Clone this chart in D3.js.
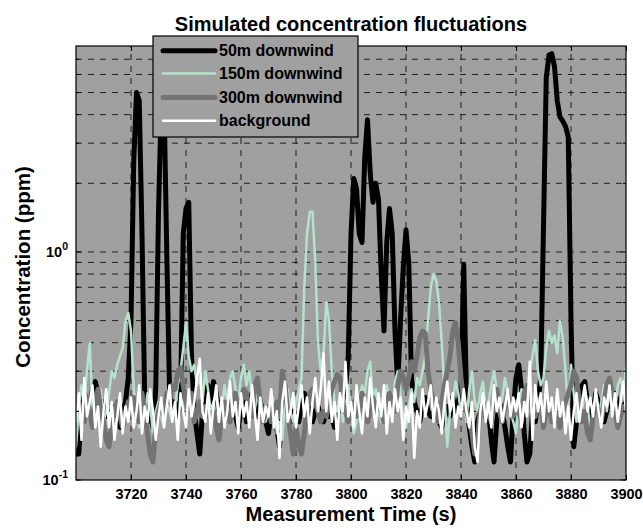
<!DOCTYPE html>
<html><head><meta charset="utf-8">
<script src="https://cdn.jsdelivr.net/npm/d3@7"></script>
<style>
body{margin:0;background:#fff}
text{font-family:"Liberation Sans",Arial,Helvetica,sans-serif;font-weight:bold;fill:#000}
</style>
</head><body>
<svg id="c" width="643" height="528"></svg>
<script>
// ---------- data ----------
const title = "Simulated concentration fluctuations";
const xLabel = "Measurement Time (s)";
const yLabel = "Concentration (ppm)";
const tStart = 3700, tStep = 1;
const xTicks = [3720,3740,3760,3780,3800,3820,3840,3860,3880,3900];
const yMajorTicks = [0.1, 1];
const yTickLabels = [["10","-1"],["10","0"]];
const yMinorTicks = [0.2,0.3,0.4,0.5,0.6,0.7,0.8,0.9,2,3,4,5,6,7];
const seriesNames = ["50m downwind","150m downwind","300m downwind","background"];

const c50 = [
0.13,0.13,0.2,0.24,0.22,0.2,0.25,0.27,0.24,0.2,
0.22,0.19,0.2,0.18,0.21,0.2,0.17,0.2,0.22,0.28,
0.5,2.5,5.0,4.6,1.2,0.22,0.18,0.2,0.17,0.25,
1.5,4.5,4.8,1.0,0.25,0.2,0.22,0.19,0.22,1.2,
1.55,1.65,0.35,0.2,0.16,0.13,0.2,0.24,0.26,0.22,
0.27,0.24,0.2,0.22,0.18,0.21,0.2,0.23,0.19,0.17,
0.2,0.22,0.18,0.21,0.24,0.2,0.19,0.22,0.2,0.18,
0.16,0.2,0.19,0.17,0.14,0.2,0.22,0.2,0.18,0.2,
0.19,0.18,0.21,0.24,0.22,0.2,0.18,0.2,0.21,0.19,
0.18,0.2,0.19,0.19,0.17,0.21,0.2,0.22,0.25,0.35,
1.2,2.1,1.9,1.2,1.1,2.6,3.8,2.2,1.65,2.0,
1.7,0.8,0.45,1.1,1.55,1.2,0.45,0.26,0.5,0.85,
1.25,0.9,0.28,0.22,0.2,0.18,0.21,0.23,0.2,0.19,
0.2,0.22,0.18,0.17,0.2,0.21,0.19,0.23,0.2,0.22,
0.25,0.88,0.22,0.17,0.14,0.12,0.18,0.2,0.22,0.19,
0.2,0.15,0.12,0.18,0.22,0.2,0.17,0.14,0.12,0.2,
0.28,0.32,0.25,0.16,0.12,0.13,0.2,0.18,0.22,0.28,
1.3,5.8,7.3,7.4,6.5,4.6,3.9,3.75,3.55,3.2,
0.5,0.14,0.18,0.2,0.26,0.27,0.22,0.19,0.2,0.24,
0.22,0.2,0.18,0.2,0.23,0.21,0.24,0.22,0.2,0.21,0.22];

const c150 = [
0.14,0.2,0.26,0.22,0.3,0.4,0.2,0.17,0.22,0.25,
0.18,0.2,0.24,0.3,0.28,0.32,0.35,0.38,0.5,0.54,
0.45,0.25,0.2,0.17,0.22,0.19,0.24,0.21,0.16,0.2,
0.22,0.19,0.17,0.23,0.2,0.18,0.21,0.26,0.3,0.38,
0.49,0.35,0.3,0.32,0.26,0.28,0.22,0.3,0.25,0.2,
0.22,0.24,0.18,0.2,0.26,0.22,0.28,0.3,0.25,0.22,
0.28,0.32,0.26,0.3,0.24,0.2,0.27,0.23,0.2,0.18,
0.2,0.24,0.22,0.16,0.18,0.15,0.22,0.25,0.2,0.18,
0.22,0.25,0.28,0.7,1.2,1.5,1.5,0.9,0.4,0.3,
0.35,0.6,0.5,0.3,0.22,0.2,0.24,0.18,0.2,0.26,
0.2,0.16,0.18,0.22,0.26,0.24,0.3,0.33,0.22,0.25,
0.2,0.18,0.22,0.26,0.23,0.2,0.27,0.3,0.24,0.19,
0.17,0.21,0.25,0.22,0.28,0.26,0.3,0.35,0.5,0.7,
0.8,0.75,0.6,0.4,0.24,0.14,0.2,0.22,0.27,0.24,
0.2,0.22,0.18,0.25,0.3,0.22,0.2,0.24,0.27,0.2,
0.22,0.26,0.3,0.25,0.2,0.23,0.28,0.24,0.2,0.18,
0.16,0.22,0.25,0.2,0.24,0.3,0.35,0.41,0.3,0.26,
0.28,0.38,0.45,0.4,0.43,0.36,0.5,0.42,0.3,0.2,
0.32,0.24,0.18,0.22,0.2,0.25,0.22,0.16,0.2,0.23,
0.19,0.22,0.26,0.2,0.24,0.22,0.2,0.26,0.28,0.25,0.31];

const c300 = [
0.2,0.22,0.19,0.18,0.23,0.2,0.17,0.22,0.25,0.2,
0.18,0.15,0.14,0.18,0.2,0.22,0.19,0.17,0.2,0.22,
0.2,0.23,0.2,0.18,0.24,0.2,0.16,0.13,0.12,0.17,
0.2,0.22,0.19,0.24,0.22,0.26,0.25,0.3,0.31,0.26,
0.22,0.2,0.24,0.18,0.2,0.22,0.19,0.21,0.2,0.18,
0.2,0.17,0.15,0.19,0.22,0.2,0.18,0.23,0.24,0.2,
0.22,0.25,0.24,0.2,0.19,0.26,0.28,0.22,0.18,0.2,
0.21,0.18,0.2,0.22,0.19,0.3,0.26,0.2,0.16,0.13,
0.17,0.14,0.13,0.16,0.2,0.24,0.25,0.22,0.2,0.18,
0.2,0.19,0.22,0.25,0.27,0.29,0.28,0.22,0.2,0.18,
0.2,0.22,0.19,0.2,0.24,0.21,0.18,0.2,0.23,0.2,
0.22,0.2,0.18,0.21,0.24,0.22,0.2,0.26,0.3,0.28,
0.25,0.28,0.33,0.3,0.35,0.42,0.45,0.44,0.3,0.25,
0.22,0.2,0.18,0.22,0.26,0.3,0.35,0.45,0.49,0.4,
0.28,0.22,0.2,0.18,0.16,0.13,0.15,0.2,0.22,0.19,
0.2,0.18,0.22,0.25,0.2,0.18,0.21,0.24,0.2,0.19,
0.22,0.2,0.18,0.24,0.26,0.22,0.2,0.19,0.21,0.23,
0.17,0.2,0.22,0.18,0.2,0.19,0.17,0.2,0.22,0.24,
0.26,0.3,0.28,0.22,0.18,0.2,0.16,0.15,0.19,0.22,
0.2,0.18,0.22,0.26,0.28,0.24,0.2,0.17,0.19,0.21,0.2];

const cBg = [
0.18,0.24,0.15,0.28,0.19,0.22,0.26,0.17,0.21,0.14,
0.2,0.25,0.17,0.22,0.15,0.19,0.24,0.16,0.21,0.18,
0.23,0.17,0.2,0.26,0.16,0.21,0.18,0.25,0.2,0.15,
0.19,0.23,0.17,0.21,0.26,0.18,0.22,0.15,0.24,0.2,
0.17,0.25,0.19,0.22,0.28,0.34,0.2,0.18,0.24,0.16,
0.21,0.26,0.18,0.23,0.17,0.2,0.27,0.19,0.22,0.16,
0.24,0.19,0.22,0.17,0.26,0.2,0.15,0.23,0.18,0.21,
0.19,0.25,0.17,0.2,0.125,0.22,0.27,0.18,0.2,0.24,
0.17,0.21,0.26,0.19,0.23,0.16,0.22,0.28,0.2,0.25,
0.36,0.2,0.27,0.18,0.22,0.15,0.24,0.2,0.33,0.19,
0.22,0.17,0.26,0.2,0.16,0.23,0.19,0.28,0.21,0.17,
0.24,0.19,0.26,0.16,0.22,0.18,0.25,0.2,0.23,0.15,
0.21,0.18,0.24,0.125,0.2,0.17,0.25,0.19,0.22,0.26,
0.18,0.23,0.2,0.16,0.22,0.27,0.2,0.24,0.17,0.21,
0.19,0.25,0.2,0.17,0.22,0.14,0.12,0.2,0.24,0.18,
0.22,0.17,0.26,0.2,0.23,0.18,0.21,0.25,0.19,0.23,
0.2,0.24,0.17,0.22,0.19,0.33,0.15,0.26,0.2,0.24,
0.18,0.27,0.2,0.23,0.17,0.25,0.19,0.22,0.16,0.21,
0.15,0.2,0.24,0.18,0.22,0.26,0.2,0.23,0.19,0.25,
0.2,0.17,0.23,0.21,0.26,0.19,0.24,0.18,0.22,0.27,0.2];

// ---------- styles ----------
const colors = ["#000000","#b4e2cc","#737373","#ffffff"];
const widths = [5, 2.5, 5, 2.5];
const plotBg = "#a0a0a0";

const m = {left:76, right:626, top:46, bottom:480};
const svg = d3.select("#c");

const x = d3.scaleLinear().domain([3700, 3900]).range([m.left, m.right]);
const y = d3.scaleLog().domain([0.1, 8]).range([m.bottom, m.top]);

svg.append("rect").attr("x",m.left).attr("y",m.top)
  .attr("width",m.right-m.left).attr("height",m.bottom-m.top).attr("fill",plotBg);

// grid
const grid = svg.append("g").attr("stroke","#111").attr("stroke-width",0.9).attr("stroke-dasharray","6,6");
xTicks.filter(t => t < 3900).forEach(t => {
  grid.append("line").attr("x1",x(t)).attr("x2",x(t)).attr("y1",m.bottom).attr("y2",m.top);
});
yMinorTicks.concat([1]).forEach(v => {
  grid.append("line").attr("y1",y(v)).attr("y2",y(v)).attr("x1",m.left).attr("x2",m.right);
});

// clip
svg.append("clipPath").attr("id","clip").append("rect")
  .attr("x",m.left).attr("y",m.top).attr("width",m.right-m.left).attr("height",m.bottom-m.top);

const all = [c50, c150, c300, cBg];
const line = d3.line().x((d,i) => x(tStart + i*tStep)).y(d => y(d));
const lg = svg.append("g").attr("clip-path","url(#clip)");
all.forEach((s,k) => {
  lg.append("path").datum(s).attr("d",line).attr("fill","none")
    .attr("stroke",colors[k]).attr("stroke-width",widths[k])
    .attr("stroke-linejoin","round").attr("stroke-linecap","round");
});

// border
svg.append("rect").attr("x",m.left).attr("y",m.top)
  .attr("width",m.right-m.left).attr("height",m.bottom-m.top)
  .attr("fill","none").attr("stroke","#000").attr("stroke-width",1.2);

// x axis
const xAxisB = d3.axisBottom(x).tickValues(xTicks).tickSizeInner(-5).tickSizeOuter(0).tickPadding(9).tickFormat(d3.format("d"));
const gx = svg.append("g").attr("transform",`translate(0,${m.bottom})`).call(xAxisB);
gx.select(".domain").remove();
gx.selectAll("text").attr("font-size",14.5).attr("font-family","Liberation Sans, Arial, sans-serif").attr("font-weight","bold").attr("fill","#000");
const xAxisT = d3.axisTop(x).tickValues(xTicks).tickSizeInner(-5).tickSizeOuter(0).tickFormat("");
const gxt = svg.append("g").attr("transform",`translate(0,${m.top})`).call(xAxisT);
gxt.select(".domain").remove();

// y ticks (inward)
const yt = svg.append("g").attr("stroke","#000").attr("stroke-width",1);
yMajorTicks.forEach(v => {
  yt.append("line").attr("x1",m.left).attr("x2",m.left+5).attr("y1",y(v)).attr("y2",y(v));
  yt.append("line").attr("x1",m.right).attr("x2",m.right-5).attr("y1",y(v)).attr("y2",y(v));
});
yMinorTicks.forEach(v => {
  yt.append("line").attr("x1",m.left).attr("x2",m.left+3).attr("y1",y(v)).attr("y2",y(v));
  yt.append("line").attr("x1",m.right).attr("x2",m.right-3).attr("y1",y(v)).attr("y2",y(v));
});
yMajorTicks.forEach((v,i) => {
  const t = svg.append("text").attr("x",m.left-8).attr("y",y(v)+5).attr("text-anchor","end").attr("font-size",14.5);
  t.append("tspan").text(yTickLabels[i][0]);
  t.append("tspan").attr("font-size",10.5).attr("dy",-7).text(yTickLabels[i][1]);
});

// titles
svg.append("text").attr("x",(m.left+m.right)/2).attr("y",31).attr("text-anchor","middle").attr("font-size",20).text(title);
svg.append("text").attr("x",(m.left+m.right)/2).attr("y",521).attr("text-anchor","middle").attr("font-size",20).text(xLabel);
svg.append("text").attr("transform",`translate(30,${(m.top+m.bottom)/2+4}) rotate(-90)`).attr("text-anchor","middle").attr("font-size",20.5).text(yLabel);

// legend
const L = {x:153, y:36, w:205, h:101};
const leg = svg.append("g");
leg.append("rect").attr("x",L.x).attr("y",L.y).attr("width",L.w).attr("height",L.h)
  .attr("fill",plotBg).attr("stroke","#000").attr("stroke-width",1.2);
const rowY = [50.7, 73.5, 97.5, 120.7];
seriesNames.forEach((nm,k) => {
  leg.append("line").attr("x1",L.x+10).attr("x2",L.x+62).attr("y1",rowY[k]).attr("y2",rowY[k])
    .attr("stroke",colors[k]).attr("stroke-width",widths[k]).attr("stroke-linecap","round");
  leg.append("text").attr("x",L.x+66).attr("y",rowY[k]+5.5).attr("font-size",16).text(nm);
});
</script>
</body></html>
